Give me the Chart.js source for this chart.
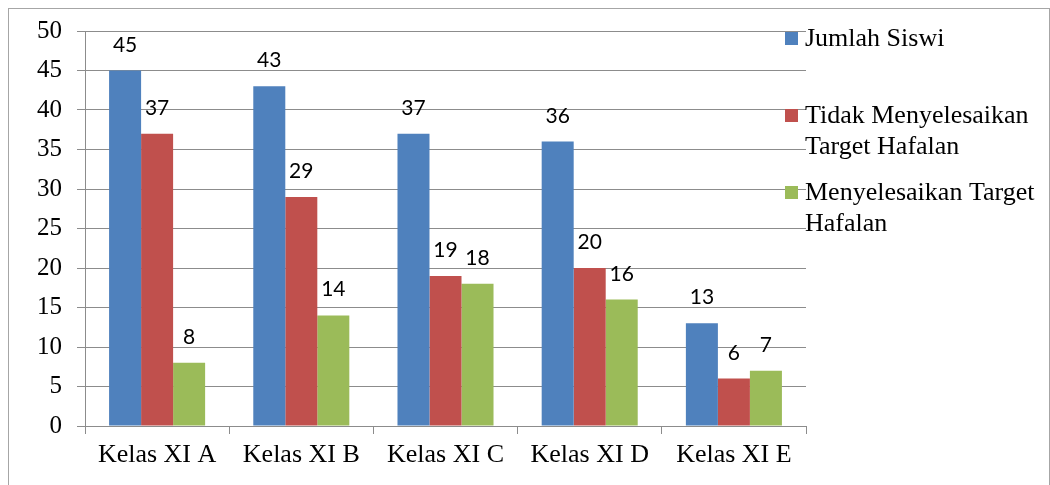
<!DOCTYPE html>
<html lang="id">
<head>
<meta charset="UTF-8">
<title>Target Hafalan Kelas XI</title>
<script src="https://cdn.jsdelivr.net/npm/chart.js"></script>
<style>
  html, body { margin: 0; padding: 0; background: #fff; overflow: hidden; width: 1050px; height: 485px; }
  #frame { position: absolute; left: 8px; top: 8px; width: 1040px; height: 600px; border: 1px solid #a6a6a6; border-bottom: none; }
  #wrap { position: absolute; left: 0; top: 0; width: 1050px; height: 485px; }
</style>
</head>
<body>
<div id="frame"></div>
<div id="wrap"><canvas id="chart"></canvas></div>
<script>
const kelas = ["Kelas XI A", "Kelas XI B", "Kelas XI C", "Kelas XI D", "Kelas XI E"];
const jumlahSiswi = [45, 43, 37, 36, 13];
const tidakSelesai = [37, 29, 19, 20, 6];
const selesai = [8, 14, 18, 16, 7];
const legendLines = [
  ["Jumlah Siswi"],
  ["Tidak Menyelesaikan", "Target Hafalan"],
  ["Menyelesaikan Target", "Hafalan"]
];

const gridGray = "#8c8c8c";
const serif = "'Liberation Serif', 'Times New Roman', serif";

// value labels above each bar
const barLabels = {
  id: "barLabels",
  afterDatasetsDraw(chart) {
    const ctx = chart.ctx;
    ctx.save();
    ctx.font = "21px Lato, sans-serif";
    ctx.fillStyle = "#000";
    ctx.textAlign = "center";
    ctx.textBaseline = "alphabetic";
    chart.data.datasets.forEach((ds, i) => {
      chart.getDatasetMeta(i).data.forEach((bar, j) => {
        ctx.fillText(ds.data[j], bar.x, bar.y - 19);
      });
    });
    ctx.restore();
  }
};

// legend on the right, overlapping the end of the grid lines
const sideLegend = {
  id: "sideLegend",
  afterDraw(chart) {
    const ctx = chart.ctx;
    ctx.save();
    ctx.font = "26px " + serif;
    ctx.textBaseline = "alphabetic";
    ctx.textAlign = "left";
    chart.data.datasets.forEach((ds, i) => {
      const base = 46 + i * 77;
      ctx.fillStyle = ds.backgroundColor;
      ctx.fillRect(785, base - 14, 13, 13);
      ctx.fillStyle = "#000";
      legendLines[i].forEach((line, k) => {
        ctx.fillText(line, 805, base + k * 31);
      });
    });
    ctx.restore();
  }
};

function draw() {
  new Chart(document.getElementById("chart"), {
    type: "bar",
    data: {
      labels: kelas,
      datasets: [
        { label: legendLines[0].join(" "), data: jumlahSiswi, backgroundColor: "#4f81bd" },
        { label: legendLines[1].join(" "), data: tidakSelesai, backgroundColor: "#c0504d" },
        { label: legendLines[2].join(" "), data: selesai, backgroundColor: "#9bbb59" }
      ]
    },
    options: {
      responsive: true,
      maintainAspectRatio: false,
      animation: false,
      categoryPercentage: 0.666,
      barPercentage: 1,
      layout: { padding: { top: 31, right: 244, left: 0, bottom: 0 } },
      plugins: {
        legend: { display: false },
        tooltip: { enabled: false }
      },
      scales: {
        x: {
          grid: { offset: true, drawOnChartArea: false, drawTicks: true, tickLength: 8, color: gridGray },
          border: { color: gridGray, width: 1 },
          ticks: { color: "#000", font: { family: serif, size: 26 }, padding: 6, maxRotation: 0, autoSkip: false },
          afterFit(scale) { scale.height = 59; }
        },
        y: {
          min: 0,
          max: 50,
          grid: { color: gridGray, tickLength: 8 },
          border: { color: gridGray, width: 1 },
          ticks: { stepSize: 5, color: "#000", font: { family: serif, size: 25 }, padding: 15 },
          afterFit(scale) { scale.width = 85; }
        }
      }
    },
    plugins: [barLabels, sideLegend]
  });
}

Promise.all([
  document.fonts.load("21px Lato"),
  document.fonts.load("26px 'Liberation Serif'")
]).then(draw, draw);
</script>
</body>
</html>
